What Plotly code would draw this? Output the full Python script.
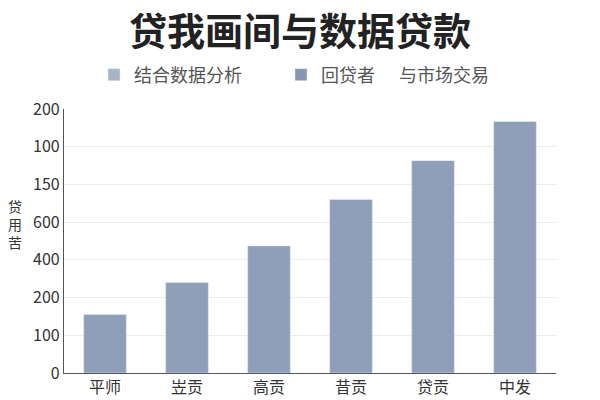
import plotly.graph_objects as go

# datos
categorias = ["平师", "岦贡", "高贡", "昔贡", "贷贡", "中发"]
valores = [1.55, 2.40, 3.37, 4.60, 5.63, 6.67]  # en posiciones del eje (0..7)
ticks_pos = [0, 1, 2, 3, 4, 5, 6, 7]
ticks_txt = ["0", "100", "200", "400", "600", "150", "100", "200"]
leyenda = ["结合数据分析", "回贷者", "与市场交易"]

fuente = "Noto Sans CJK SC"

fig = go.Figure()
fig.add_trace(go.Bar(x=categorias, y=valores, marker_color="#8f9fba",
                     showlegend=False))
# entradas de leyenda
fig.add_trace(go.Bar(x=[None], y=[None], name=leyenda[0],
                     marker_color="#a7b3c7", legend="legend"))
fig.add_trace(go.Bar(x=[None], y=[None], name=leyenda[1],
                     marker_color="#8796b0", legend="legend2"))
fig.add_trace(go.Bar(x=[None], y=[None], name=leyenda[2],
                     marker=dict(color="rgba(0,0,0,0)", line=dict(width=0)),
                     legend="legend3"))

ley = dict(orientation="h", yanchor="middle", y=1.129, xanchor="left",
           bgcolor="rgba(0,0,0,0)", font=dict(family=fuente, size=18, color="#555"))

fig.update_layout(
    width=600, height=400,
    margin=dict(l=64, r=44, t=109, b=27, autoexpand=False),
    paper_bgcolor="white", plot_bgcolor="white",
    font=dict(family=fuente),
    title=dict(text="<b>贷我画间与数据贷款</b>", x=0.5, xref="container",
               y=0.922, yref="container", yanchor="middle", xanchor="center",
               font=dict(family=fuente, size=38, color="#222")),
    bargap=0.48,
    legend=dict(ley, x=(94 - 64) / 492),
    legend2=dict(ley, x=(281 - 64) / 492),
    legend3=dict(ley, x=(359 - 64) / 492),
    xaxis=dict(showline=True, linecolor="#555", linewidth=1.2, ticks="",
               automargin=False, tickfont=dict(size=16, color="#333")),
    yaxis=dict(range=[0, 7], tickvals=ticks_pos, ticktext=ticks_txt,
               showline=True, linecolor="#555", linewidth=1.2,
               gridcolor="#ececec", zeroline=False, automargin=False,
               tickfont=dict(size=16, color="#333")),
    annotations=[dict(text="贷<br>用<br>苦", x=(15 - 64) / 492, y=(373.3 - 224) / 264.3,
                      xref="paper", yref="paper", xanchor="center", yanchor="middle",
                      showarrow=False, font=dict(size=14, color="#333"))],
)

fig.write_html("out.html", config={"displayModeBar": False},
               post_script="document.body.style.margin='0';")
